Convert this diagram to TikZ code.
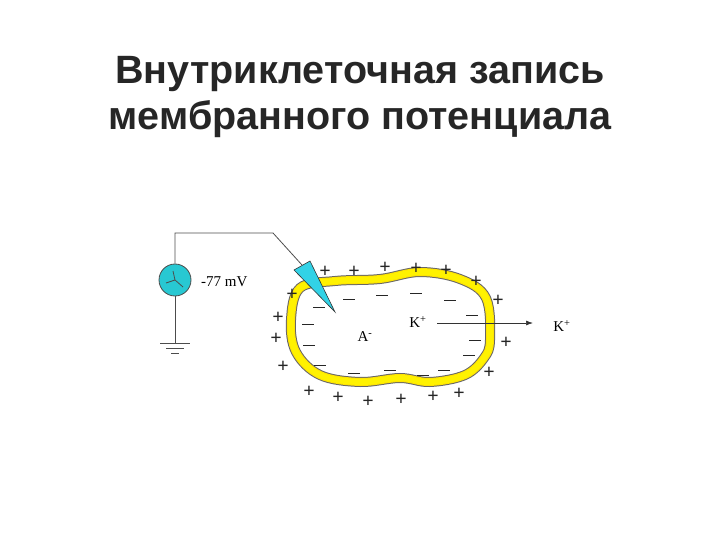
\documentclass[tikz,border=0pt]{standalone}
\usepackage{fontspec}
\usetikzlibrary{arrows.meta}
\setmainfont{Liberation Serif}
\newfontfamily\titlefont{Liberation Sans}
\definecolor{teal1}{RGB}{40,200,210}
\definecolor{elec}{RGB}{50,210,230}
\begin{document}
\begin{tikzpicture}[x=1pt,y=-1pt,
  lbl/.style={font=\fontsize{15}{17}\selectfont, inner sep=0},
  pl/.style={font=\bfseries\fontsize{20}{20}\selectfont, inner sep=0, text=black!85},
  wire/.style={draw=black!70, line width=0.8pt}]
\useasboundingbox (0,0) rectangle (720,540);
\node[font=\titlefont\bfseries\fontsize{39.5}{46}\selectfont, align=center, text=black!85] (title) at (360,97) {Внутриклеточная запись\\мембранного потенциала};
% cell membrane
\def\cellpath{plot[smooth cycle, tension=0.6] coordinates {(300,288)(335,281)(380,279)(420,272)(460,279)(486,298)(490,340)(484,358)(465,375)(430,382)(400,378)(360,382)(320,375)(296,352)(291,320)}}
\draw[line width=10pt, draw=black!60] \cellpath;
\draw[line width=8pt, draw=yellow!85!orange] \cellpath;
\draw[line width=6pt, draw=yellow] \cellpath;
% meter
\node[circle, draw=black!70, fill=teal1, minimum size=32pt, inner sep=0, line width=0.8pt] (m) at (175,280) {};
\draw[black!70, line width=0.8pt] (m.center) -- ++(-2,-9) (m.center) -- ++(-9,3) (m.center) -- ++(8,7);
\node[lbl, anchor=west] (v) at (201,282) {-77 mV};
% electrode
\coordinate (eb) at (302,265);
\coordinate (tip) at (335,312);
\draw[fill=elec, draw=black!80, line width=0.6pt] (294,270) -- (310,261) -- (tip) -- cycle;
\coordinate (c1) at (175,233);
\coordinate (c2) at (273,233);
\draw[wire] (m.north) -- (c1) -- (c2) -- (eb);
% ground
\coordinate (g) at (175,343);
\draw[wire] (m.south) -- (g);
\draw[wire] (160,343) -- (190,343) (166,348) -- (184,348) (171,353) -- (179,353);
% labels
\node[lbl] (kin) at (418,322) {K\textsuperscript{+}};
\node[lbl] (kout) at (562,326) {K\textsuperscript{+}};
\node[lbl] (a) at (365,337) {A\textsuperscript{-}};
\draw[black!80, line width=0.7pt, -{Latex[length=7pt,width=5pt]}] (437,323) -- (533,323);
% plus
\foreach \p in {(325,272),(354,272),(385,268),(416,269),(446,271),(476,282),(498,301),(506,343),(489,373),(459,394),(433,397),(401,400),(368,402),(338,398),(309,392),(283,367),(276,339),(278,318),(292,295)}
  \node[pl] at \p {+};
% minus
\foreach \p in {(349,299),(382,295),(416,293),(450,300),(472,315),(475,340),(469,355),(444,370),(423,375),(390,370),(354,373),(320,365),(309,345),(308,324),(319,307)}
  \draw[black!85, line width=1pt] \p ++(-6,0) -- ++(12,0);
\end{tikzpicture}
\end{document}
